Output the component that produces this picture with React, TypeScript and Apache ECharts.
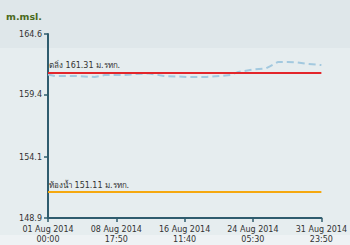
import React, { useEffect, useRef } from "react";
import * as echarts from "echarts";

const titleText = "m.msl.";
const yTicks = [148.9, 154.1, 159.4, 164.6];
const xTicks = ["2014-08-01 00:00", "2014-08-08 17:50", "2014-08-16 11:40", "2014-08-24 05:30", "2014-08-31 23:50"];
const bankLevel = 161.31;
const bedLevel = 151.11;
const bankLabel = "ตลิ่ง 161.31 ม.รทก.";
const bedLabel = "ท้องน้ำ 151.11 ม.รทก.";

const times = [
  "2014-08-01 00:00", "2014-08-01 19:00", "2014-08-02 14:00", "2014-08-04 01:00",
  "2014-08-06 06:40", "2014-08-07 10:00", "2014-08-09 15:30", "2014-08-11 02:30",
  "2014-08-12 11:00", "2014-08-14 03:20", "2014-08-16 22:40", "2014-08-18 23:10",
  "2014-08-20 13:00", "2014-08-21 16:00", "2014-08-22 13:30", "2014-08-24 06:00",
  "2014-08-25 17:00", "2014-08-26 03:40", "2014-08-27 01:10", "2014-08-28 04:10",
  "2014-08-29 07:10", "2014-08-30 10:00", "2014-08-31 23:50",
];
const levels = [
  161.15, 161.02, 161.02, 161.02,
  160.93, 161.1, 161.1, 161.19,
  161.23, 161.02, 160.93, 160.93,
  161.02, 161.1, 161.36, 161.57,
  161.66, 161.83, 162.21, 162.21,
  162.17, 162.04, 161.95,
];

const MONTHS = ["Jan", "Feb", "Mar", "Apr", "May", "Jun", "Jul", "Aug", "Sep", "Oct", "Nov", "Dec"];
const pad = (n: number) => (n < 10 ? "0" + n : "" + n);
const parse = (s: string) => {
  const [d, t] = s.split(" ");
  const [Y, M, D] = d.split("-").map(Number);
  const [h, m] = t.split(":").map(Number);
  return new Date(Y, M - 1, D, h, m).getTime();
};
const fmt = (v: number) => {
  const d = new Date(v);
  return `${pad(d.getDate())} ${MONTHS[d.getMonth()]} ${d.getFullYear()}\n${pad(d.getHours())}:${pad(d.getMinutes())}`;
};

export default function App() {
  const ref = useRef<HTMLDivElement>(null);
  useEffect(() => {
    document.body.style.margin = "0";
    const chart = echarts.init(ref.current!, null, { renderer: "svg" });
    const xVals = xTicks.map(parse);
    const axisColor = "#2f5c6e";
    const font = "DejaVu Sans";
    chart.setOption({
      animation: false,
      title: {
        text: titleText,
        left: 1,
        top: 6,
        textStyle: { fontSize: 9.5, fontWeight: "bold", color: "#4a6a1c", fontFamily: font },
      },
      grid: { left: 48, right: 26, top: 34, bottom: 27 },
      xAxis: {
        type: "value",
        min: xVals[0],
        max: xVals[xVals.length - 1],
        axisLine: { show: true, lineStyle: { color: axisColor, width: 2 } },
        axisTick: { show: true, length: 4, lineStyle: { color: axisColor, width: 1.5 }, customValues: xVals },
        axisLabel: {
          customValues: xVals,
          formatter: (v: number) => fmt(v),
          fontSize: 8,
          lineHeight: 10,
          color: "#333",
          fontFamily: font,
          margin: 6,
        },
        splitLine: { show: false },
      },
      yAxis: {
        type: "value",
        min: yTicks[0],
        max: yTicks[yTicks.length - 1],
        axisLine: { show: true, lineStyle: { color: axisColor, width: 2 } },
        axisTick: { show: true, length: 4, lineStyle: { color: axisColor, width: 1.5 }, customValues: yTicks },
        axisLabel: {
          customValues: yTicks,
          formatter: (v: number) => v.toFixed(1),
          fontSize: 8,
          color: "#333",
          fontFamily: font,
          margin: 6,
        },
        splitLine: { show: false },
      },
      series: [
        {
          type: "line",
          data: times.map((t, i) => [parse(t), levels[i]]),
          showSymbol: false,
          lineStyle: { color: "#a3c9df", width: 2, type: [7, 4] },
          z: 3,
          markLine: {
            silent: true,
            symbol: "none",
            data: [
              {
                yAxis: bankLevel,
                lineStyle: { color: "#e3262b", width: 2, type: "solid" },
                label: { formatter: bankLabel, color: "#333" },
              },
              {
                yAxis: bedLevel,
                lineStyle: { color: "#f5a80f", width: 2, type: "solid" },
                label: { formatter: bedLabel, color: "#333" },
              },
            ],
            label: {
              position: "insideStartTop",
              fontSize: 8,
              fontFamily: font,
              distance: [1, 3],
            },
          },
        },
      ],
    });
    return () => chart.dispose();
  }, []);
  return (
    <div
      ref={ref}
      style={{
        width: 350,
        height: 245,
        background: "linear-gradient(to bottom, #dfe7ea 0px, #dfe7ea 48px, #e6edef 48px, #e6edef 235px, #eef2f4 235px)",
      }}
    />
  );
}
